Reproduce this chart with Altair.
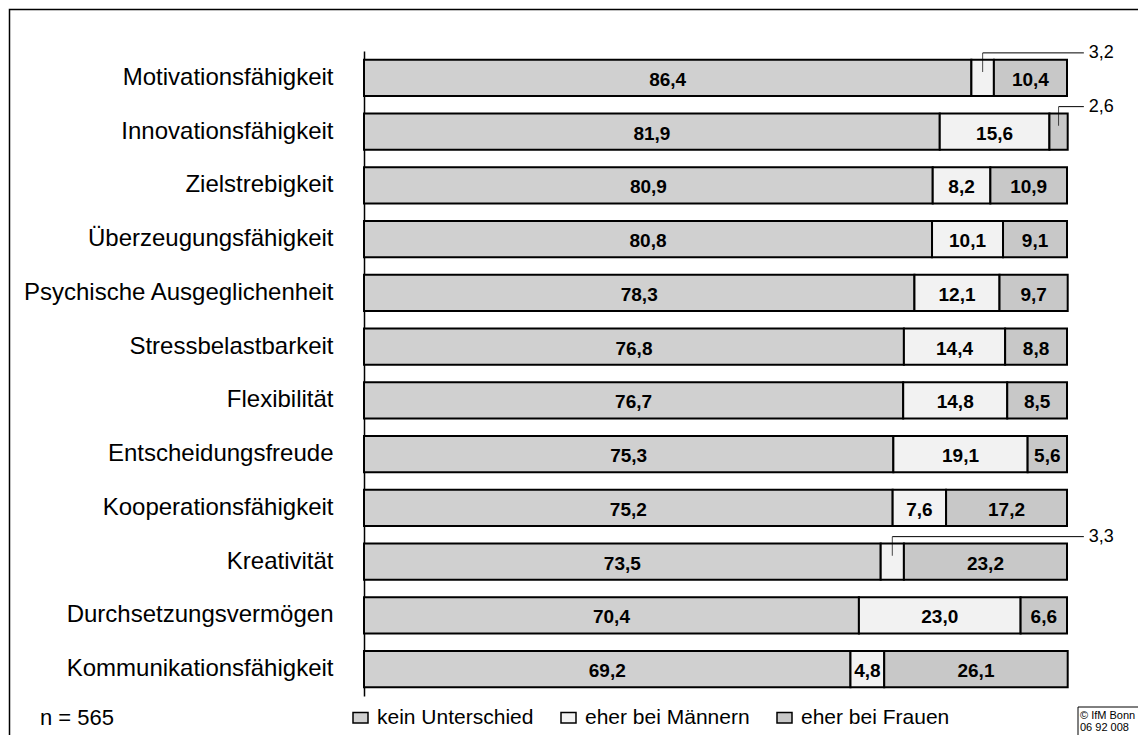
import altair as alt
import pandas as pd

categories = [
    "Motivationsfähigkeit", "Innovationsfähigkeit", "Zielstrebigkeit",
    "Überzeugungsfähigkeit", "Psychische Ausgeglichenheit", "Stressbelastbarkeit",
    "Flexibilität", "Entscheidungsfreude", "Kooperationsfähigkeit", "Kreativität",
    "Durchsetzungsvermögen", "Kommunikationsfähigkeit",
]
kein_unterschied = [86.4, 81.9, 80.9, 80.8, 78.3, 76.8, 76.7, 75.3, 75.2, 73.5, 70.4, 69.2]
eher_maenner = [3.2, 15.6, 8.2, 10.1, 12.1, 14.4, 14.8, 19.1, 7.6, 3.3, 23.0, 4.8]
eher_frauen = [10.4, 2.6, 10.9, 9.1, 9.7, 8.8, 8.5, 5.6, 17.2, 23.2, 6.6, 26.1]
series_names = ["kein Unterschied", "eher bei Männern", "eher bei Frauen"]
series_colors = ["#d0d0d0", "#f2f2f2", "#c8c8c8"]
sample_note = "n = 565"
copyright_lines = ["© IfM Bonn", "06 92 008"]
small_threshold = 4.0

FONT = "Liberation Sans"

rows = []
for i, cat in enumerate(categories):
    start = 0.0
    for k, (s, vals) in enumerate(zip(series_names, [kein_unterschied, eher_maenner, eher_frauen])):
        v = vals[i]
        rows.append(dict(cat=cat, series=s, order=k, value=v, start=start, end=start + v,
                         mid=start + v / 2, label=f"{v:.1f}".replace(".", ","),
                         small=bool(v < small_threshold)))
        start += v
df = pd.DataFrame(rows)
big = df[~df["small"]]
small = df[df["small"]]
one = pd.DataFrame({"k": [0]})

xscale = alt.Scale(domain=[0, 100], nice=False, zero=True)
y_enc = alt.Y("cat:N", sort=categories,
              scale=alt.Scale(paddingInner=0.33, paddingOuter=0.165),
              axis=alt.Axis(title=None, labelFont=FONT, labelFontSize=24, labelColor="black",
                            labelPadding=31, ticks=False, domainColor="black", domainWidth=1.5,
                            labelLimit=400))

frame = alt.Chart(one).mark_rect(fill="white", fillOpacity=0, stroke="black", strokeWidth=1.5).encode(
    x=alt.value(-354.5), x2=alt.value(820), y=alt.value(-41.5), y2=alt.value(720))

bars = alt.Chart(df).mark_bar(stroke="black", strokeWidth=2).encode(
    x=alt.X("start:Q", scale=xscale, axis=None),
    x2="end:Q",
    y=y_enc,
    color=alt.Color("series:N", scale=alt.Scale(domain=series_names, range=series_colors),
                    legend=alt.Legend(orient="none", legendX=-14, legendY=656, direction="horizontal",
                                      title=None, labelFont=FONT, labelFontSize=21, labelColor="black",
                                      labelLimit=400, symbolType="M-1,-0.7H1V0.7H-1Z", symbolSize=225,
                                      symbolStrokeColor="black", symbolStrokeWidth=1.5,
                                      columnPadding=24, labelOffset=6, padding=0)),
    order=alt.Order("order:Q"),
)

values = alt.Chart(big).mark_text(font=FONT, fontWeight="bold", fontSize=19, baseline="middle", dy=2,
                                  color="black").encode(
    x=alt.X("mid:Q", scale=xscale), y=alt.Y("cat:N", sort=categories), text="label:N")

lead_v = alt.Chart(small).mark_tick(color="black", thickness=1, size=19, yOffset=-15.5).encode(
    x=alt.X("mid:Q", scale=xscale), y=alt.Y("cat:N", sort=categories))

lead_h = alt.Chart(small).mark_rule(color="black", strokeWidth=1, yOffset=-25).encode(
    x=alt.X("mid:Q", scale=xscale), x2=alt.datum(102.4), y=alt.Y("cat:N", sort=categories))

lead_t = alt.Chart(small).mark_text(font=FONT, fontSize=18, align="left", baseline="middle",
                                    yOffset=-25, color="black").encode(
    x=alt.datum(103.1), y=alt.Y("cat:N", sort=categories), text="label:N")

note = alt.Chart(one).mark_text(font=FONT, fontSize=22, align="left", baseline="middle",
                                color="black").encode(
    x=alt.value(-324), y=alt.value(667), text=alt.value(sample_note))

cbox = alt.Chart(one).mark_rect(fill="white", stroke="black", strokeWidth=1).encode(
    x=alt.value(714), x2=alt.value(820), y=alt.value(656), y2=alt.value(720))
c1 = alt.Chart(one).mark_text(font=FONT, fontSize=11, align="left", baseline="middle",
                              color="black").encode(
    x=alt.value(716), y=alt.value(665), text=alt.value(copyright_lines[0]))
c2 = alt.Chart(one).mark_text(font=FONT, fontSize=11, align="left", baseline="middle",
                              color="black").encode(
    x=alt.value(716), y=alt.value(677), text=alt.value(copyright_lines[1]))

chart = alt.layer(frame, bars, values, lead_v, lead_h, lead_t, note, cbox, c1, c2).properties(
    width=703, height=645,
    autosize=alt.AutoSizeParams(type="none"),
    padding={"left": 356, "top": 43, "right": 71, "bottom": 39},
    background="white",
).configure_view(stroke=None)

chart.save("out.html", embed_options={"renderer": "svg", "actions": False})
